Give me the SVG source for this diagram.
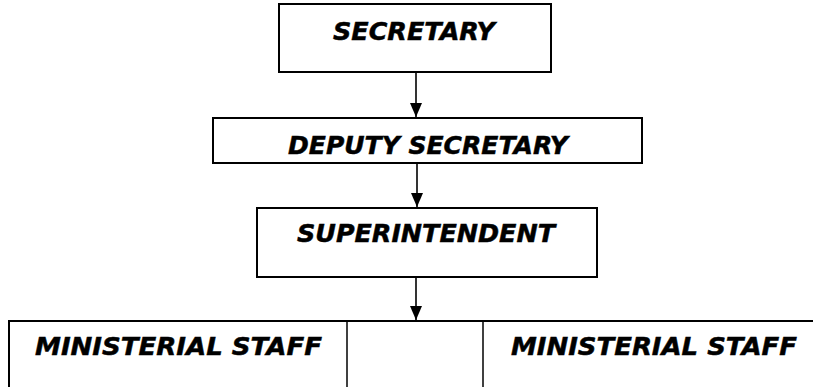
<svg xmlns="http://www.w3.org/2000/svg" width="813" height="387" viewBox="0 0 813 387">
<style>
.box{fill:#fff;stroke:#000;stroke-width:2}
.div{stroke:#000;stroke-width:1.5;fill:none}
.lbl{font-family:"DejaVu Sans","Verdana",sans-serif;font-weight:bold;font-style:italic;font-size:25px;fill:#000;stroke:#000;stroke-width:0.5}
.conn{stroke:#000;stroke-width:1.6;fill:none}
</style>
<defs>
<marker id="arr" viewBox="0 0 14 12" refX="14" refY="6" markerWidth="14" markerHeight="12" markerUnits="userSpaceOnUse" orient="auto">
<path d="M0,0 L14,6 L0,12 Z" fill="#000"/>
</marker>
</defs>
<rect width="813" height="387" fill="#fff"/>
<g id="secretary">
<rect class="box" x="279" y="4" width="272" height="68"/>
<text class="lbl" x="333" y="40" textLength="162" lengthAdjust="spacingAndGlyphs">SECRETARY</text>
</g>
<g id="deputy-secretary">
<rect class="box" x="213" y="118" width="429" height="45"/>
<text class="lbl" x="288" y="154" textLength="280" lengthAdjust="spacingAndGlyphs">DEPUTY SECRETARY</text>
</g>
<g id="superintendent">
<rect class="box" x="257" y="208" width="340" height="69"/>
<text class="lbl" x="297" y="242" textLength="258" lengthAdjust="spacingAndGlyphs">SUPERINTENDENT</text>
</g>
<g id="ministerial-staff-row">
<path class="box" d="M9,387 L9,321 L813,321" fill="none"/>
<line class="div" x1="347" y1="321" x2="347" y2="387"/>
<line class="div" x1="483" y1="321" x2="483" y2="387"/>
<text class="lbl" x="35" y="355" textLength="287" lengthAdjust="spacingAndGlyphs">MINISTERIAL STAFF</text>
<text class="lbl" x="511" y="355" textLength="286" lengthAdjust="spacingAndGlyphs">MINISTERIAL STAFF</text>
</g>
<g id="connectors">
<line class="conn" x1="416" y1="72" x2="416" y2="117" marker-end="url(#arr)"/>
<line class="conn" x1="417" y1="163" x2="417" y2="207" marker-end="url(#arr)"/>
<line class="conn" x1="416" y1="277" x2="416" y2="320" marker-end="url(#arr)"/>
</g>
</svg>
